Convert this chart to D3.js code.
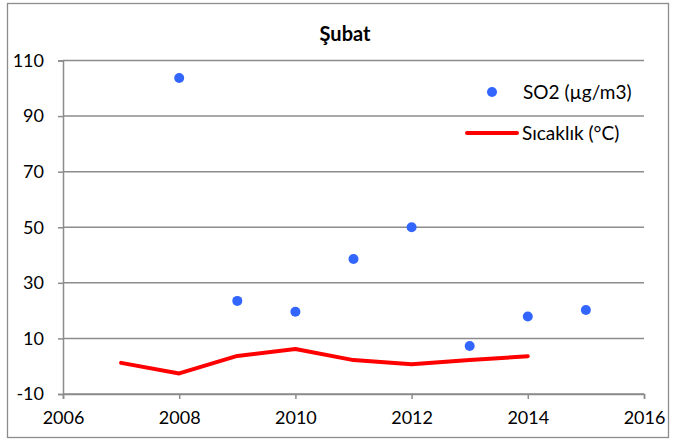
<!DOCTYPE html>
<html>
<head>
<meta charset="utf-8">
<script src="https://cdn.jsdelivr.net/npm/d3@7"></script>
<style>
  html, body { margin: 0; padding: 0; background: #fff; }
  svg { display: block; }
  text { font-family: Lato, "Open Sans", "Liberation Sans", sans-serif; fill: #000; }
</style>
</head>
<body>
<svg id="chart" width="674" height="439"></svg>
<script>
// February readings: SO2 concentration and mean temperature by year
const so2Years = [2008, 2009, 2010, 2011, 2012, 2013, 2014, 2015];
const so2Values = [103.7, 23.5, 19.6, 38.6, 50.0, 7.3, 17.9, 20.2];
const tempYears = [2007, 2008, 2009, 2010, 2011, 2012, 2013, 2014];
const tempValues = [1.2, -2.6, 3.7, 6.2, 2.2, 0.7, 2.2, 3.6];
const xTicks = [2006, 2008, 2010, 2012, 2014, 2016];
const yTicks = [-10, 10, 30, 50, 70, 90, 110];
const title = "Şubat";
const seriesNames = ["SO2 (µg/m3)", "Sıcaklık (°C)"];

const svg = d3.select("#chart");
const W = 674, H = 439;
const margin = { left: 63, right: 30, top: 60.5, bottom: 45 };

// outer chart frame
svg.append("rect")
  .attr("x", 7.5).attr("y", 3.5)
  .attr("width", 661).attr("height", 434)
  .attr("fill", "#fff")
  .attr("stroke", "#8c8c8c").attr("stroke-width", 1.3);

const x = d3.scaleLinear().domain([2006, 2016]).range([margin.left, W - margin.right]);
const y = d3.scaleLinear().domain([-10, 110]).range([H - margin.bottom, margin.top]);

const gridColor = "#8c8c8c";
const plainNumber = d => String(d);

// horizontal gridlines
svg.append("g")
  .selectAll("line")
  .data(yTicks)
  .join("line")
  .attr("x1", x(2006)).attr("x2", x(2016))
  .attr("y1", d => y(d)).attr("y2", d => y(d))
  .attr("stroke", gridColor).attr("stroke-width", 1.5);

// y axis
const yAxis = svg.append("g")
  .attr("transform", `translate(${x(2006)},0)`)
  .call(d3.axisLeft(y).tickValues(yTicks).tickSize(5).tickPadding(14).tickFormat(plainNumber));
yAxis.select(".domain").attr("stroke", gridColor).attr("stroke-width", 1.5);
yAxis.selectAll(".tick line").attr("stroke", gridColor).attr("stroke-width", 1.5);
yAxis.selectAll(".tick text").attr("font-size", 18).attr("fill", "#000")
  .style("font-family", "Lato, 'Open Sans', sans-serif");

// x axis
const xAxis = svg.append("g")
  .attr("transform", `translate(0,${y(-10)})`)
  .call(d3.axisBottom(x).tickValues(xTicks).tickSize(5).tickPadding(12).tickFormat(plainNumber));
xAxis.select(".domain").attr("stroke", gridColor).attr("stroke-width", 1.5);
xAxis.selectAll(".tick line").attr("stroke", gridColor).attr("stroke-width", 1.5);
xAxis.selectAll(".tick text").attr("font-size", 18).attr("fill", "#000")
  .style("font-family", "Lato, 'Open Sans', sans-serif");

// temperature line
const tempData = tempYears.map((yr, i) => ({ yr, v: tempValues[i] }));
svg.append("path")
  .datum(tempData)
  .attr("fill", "none")
  .attr("stroke", "#ff0000")
  .attr("stroke-width", 4)
  .attr("stroke-linejoin", "round")
  .attr("stroke-linecap", "round")
  .attr("d", d3.line().x(d => x(d.yr)).y(d => y(d.v)));

// SO2 points
const so2Data = so2Years.map((yr, i) => ({ yr, v: so2Values[i] }));
svg.append("g")
  .selectAll("circle")
  .data(so2Data)
  .join("circle")
  .attr("cx", d => x(d.yr))
  .attr("cy", d => y(d.v))
  .attr("r", 5)
  .attr("fill", "#3366ff");

// title
svg.append("text")
  .attr("x", 345).attr("y", 41)
  .attr("text-anchor", "middle")
  .attr("font-size", 20)
  .attr("font-weight", "bold")
  .text(title);

// legend
const legend = svg.append("g");
legend.append("circle").attr("cx", 492).attr("cy", 92).attr("r", 5).attr("fill", "#3366ff");
legend.append("text").attr("x", 523).attr("y", 98.5).attr("font-size", 19).text(seriesNames[0]);
legend.append("line")
  .attr("x1", 467).attr("x2", 517).attr("y1", 133).attr("y2", 133)
  .attr("stroke", "#ff0000").attr("stroke-width", 4).attr("stroke-linecap", "round");
legend.append("text").attr("x", 522).attr("y", 139.5).attr("font-size", 19).text(seriesNames[1]);
</script>
</body>
</html>
